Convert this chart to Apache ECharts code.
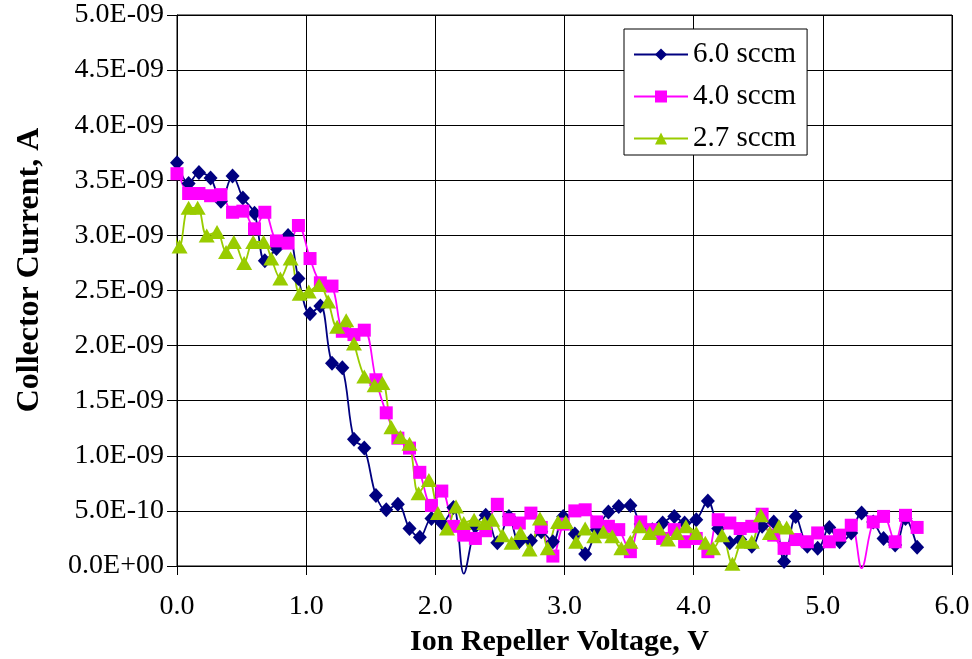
<!DOCTYPE html>
<html>
<head>
<meta charset="utf-8">
<script src="https://cdn.jsdelivr.net/npm/echarts@6/dist/echarts.min.js"></script>
<style>html,body{margin:0;padding:0;background:#fff}#c{width:972px;height:659px}</style>
</head>
<body>
<div id="c"></div>
<script>
// Ion repeller voltage (V) grid for 6.0 sccm and 4.0 sccm runs
const voltsA = [0.00,0.09,0.17,0.26,0.34,0.43,0.51,0.60,0.68,0.77,0.86,0.94,1.03,1.11,1.20,1.28,1.37,1.45,1.54,1.62,1.71,1.80,1.88,1.97,2.05,2.14,2.22,2.31,2.39,2.48,2.57,2.65,2.74,2.82,2.91,2.99,3.08,3.16,3.25,3.34,3.42,3.51,3.59,3.68,3.76,3.85,3.93,4.02,4.11,4.19,4.28,4.36,4.45,4.53,4.62,4.70,4.79,4.88,4.96,5.05,5.13,5.22,5.30,5.39,5.47,5.56,5.64,5.73];
// 4.0 sccm run includes one leading point before 0 V
const voltsB = [-0.07].concat(voltsA);
// 2.7 sccm run voltages
const voltsC = [-0.07,0.02,0.09,0.16,0.23,0.31,0.38,0.44,0.52,0.59,0.67,0.73,0.80,0.88,0.95,1.02,1.10,1.17,1.24,1.31,1.37,1.45,1.53,1.59,1.66,1.73,1.80,1.87,1.95,2.02,2.09,2.16,2.22,2.30,2.38,2.44,2.52,2.59,2.66,2.73,2.81,2.87,2.95,3.01,3.09,3.16,3.23,3.30,3.37,3.44,3.51,3.58,3.66,3.73,3.80,3.87,3.94,4.02,4.09,4.15,4.22,4.30,4.38,4.45,4.52,4.59,4.66,4.72];

// Collector current in nA (converted to A below)
const current60 = [3.66,3.47,3.57,3.52,3.31,3.54,3.34,3.20,2.77,2.88,3.00,2.61,2.29,2.36,1.84,1.80,1.15,1.07,0.64,0.51,0.56,0.34,0.26,0.43,0.39,0.53,-0.07,0.36,0.46,0.21,0.45,0.22,0.23,0.31,0.22,0.45,0.29,0.11,0.33,0.49,0.54,0.55,0.38,0.33,0.39,0.45,0.39,0.42,0.59,0.34,0.21,0.24,0.18,0.36,0.40,0.04,0.45,0.18,0.16,0.35,0.22,0.30,0.48,0.40,0.25,0.19,0.43,0.17];
const current40 = [3.37,3.56,3.38,3.38,3.36,3.37,3.21,3.22,3.06,3.21,2.95,2.93,3.09,2.79,2.57,2.54,2.13,2.10,2.14,1.69,1.39,1.16,1.07,0.85,0.55,0.68,0.36,0.28,0.25,0.32,0.56,0.42,0.39,0.48,0.35,0.09,0.38,0.50,0.51,0.40,0.36,0.33,0.13,0.40,0.33,0.25,0.33,0.22,0.25,0.13,0.42,0.39,0.34,0.36,0.47,0.28,0.16,0.24,0.22,0.30,0.22,0.28,0.37,-0.02,0.40,0.45,0.22,0.46,0.35];
const current27 = [3.26,2.90,3.25,3.25,3.00,3.03,2.85,2.94,2.75,2.94,2.94,2.79,2.61,2.79,2.47,2.49,2.55,2.40,2.17,2.23,2.02,1.72,1.64,1.66,1.26,1.17,1.11,0.66,0.78,0.48,0.34,0.54,0.39,0.42,0.39,0.42,0.28,0.21,0.30,0.15,0.43,0.16,0.40,0.40,0.22,0.34,0.27,0.31,0.27,0.16,0.22,0.36,0.30,0.34,0.24,0.30,0.36,0.30,0.21,0.16,0.28,0.02,0.22,0.22,0.46,0.30,0.36,0.35];

const seriesNames = ['6.0 sccm','4.0 sccm','2.7 sccm'];
const xTitle = 'Ion Repeller Voltage, V';
const yTitle = 'Collector Current, A';
const xTicks = {min:0, max:6, interval:1};
const yTicks = {min:0, max:5e-9, interval:0.5e-9};

function pairs(xs, ys){
  return xs.map(function(x,i){
    const y = ys[i]*1e-9;
    const item = {value:[x,y]};
    if (x < xTicks.min || y < yTicks.min) item.symbol = 'none';
    return item;
  });
}
function sci(v){
  if (Math.abs(v) < 1e-20) return '0.0E+00';
  const e = Math.floor(Math.log10(Math.abs(v)) + 1e-9);
  const m = v/Math.pow(10,e);
  const ae = Math.abs(e);
  return m.toFixed(1)+'E'+(e<0?'-':'+')+(ae<10?'0':'')+ae;
}
const FONT = 'Liberation Serif';
const chart = echarts.init(document.getElementById('c'), null, {renderer:'canvas'});
function mk(name, xs, ys, color, symbol, size){
  return {
    name:name, type:'line', data:pairs(xs,ys), smooth:0.35, clip:false,
    symbol:symbol, symbolSize:size, showAllSymbol:true,
    lineStyle:{color:color, width:1.8},
    itemStyle:{color:color, borderColor:color, borderWidth:0},
    emphasis:{disabled:true}
  };
}
chart.setOption({
  animation:false,
  backgroundColor:'#fff',
  grid:{left:177, right:20, top:15, bottom:93, outerBoundsMode:'none', containLabel:false,
        show:true, borderColor:'#000', borderWidth:1},
  legend:{
    orient:'vertical', left:624, top:29,
    backgroundColor:'#fff', borderColor:'#000', borderWidth:1,
    padding:[11,11,2,9], itemGap:13, itemWidth:54, itemHeight:15,
    textStyle:{fontFamily:FONT, fontSize:29, color:'#000'},
    data:seriesNames
  },
  graphic:[{
    type:'text', x:30, y:270, rotation:Math.PI/2,
    style:{text:yTitle, fontFamily:FONT, fontSize:32, fontWeight:'bold', fill:'#000', align:'center', verticalAlign:'middle'}
  }],
  xAxis:{
    type:'value', min:xTicks.min, max:xTicks.max, interval:xTicks.interval,
    name:xTitle, nameLocation:'middle', nameGap:61,
    nameTextStyle:{fontFamily:FONT, fontSize:30, fontWeight:'bold', color:'#000', padding:[0,10,0,0]},
    axisLine:{lineStyle:{color:'#000', width:1}},
    axisTick:{show:true, length:9, lineStyle:{color:'#000'}},
    splitLine:{show:true, lineStyle:{color:'#000', width:1}},
    axisLabel:{fontFamily:FONT, fontSize:28, color:'#000', margin:27, formatter:function(v){return v.toFixed(1);}}
  },
  yAxis:{
    type:'value', min:yTicks.min, max:yTicks.max, interval:yTicks.interval,
    axisLine:{show:true, lineStyle:{color:'#000', width:1}},
    axisTick:{show:true, length:10, lineStyle:{color:'#000'}},
    splitLine:{show:true, lineStyle:{color:'#000', width:1}},
    axisLabel:{fontFamily:FONT, fontSize:28, color:'#000', margin:13, formatter:sci}
  },
  series:[
    mk(seriesNames[0], voltsA, current60, '#000080', 'diamond', [14,15]),
    mk(seriesNames[1], voltsB, current40, '#FF00FF', 'rect', 13),
    mk(seriesNames[2], voltsC, current27, '#99CC00', 'triangle', [16,14])
  ]
});
</script>
</body>
</html>
